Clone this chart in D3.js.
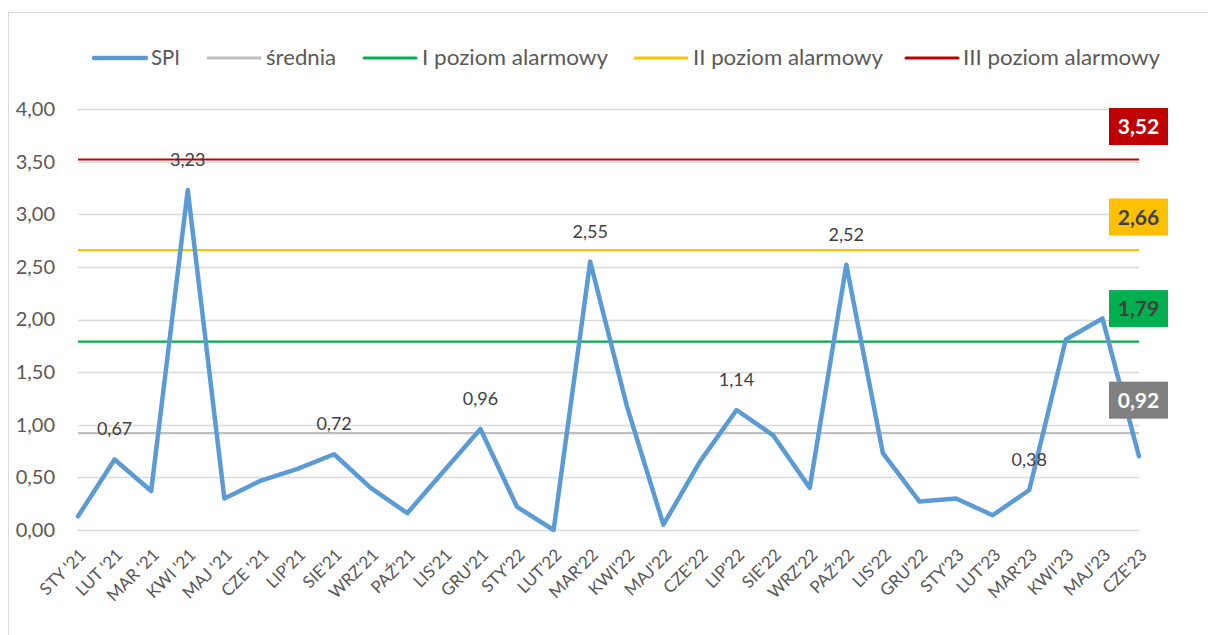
<!DOCTYPE html>
<html>
<head>
<meta charset="utf-8">
<script src="https://cdn.jsdelivr.net/npm/d3@7"></script>
<style>
  html, body { margin: 0; padding: 0; background: #fff; }
  svg { display: block; font-family: Lato, "Open Sans", sans-serif; }
</style>
</head>
<body>
<svg id="chart" width="1208" height="635"></svg>
<script>
const categories = ["STY '21","LUT '21","MAR '21","KWI '21","MAJ '21","CZE '21","LIP'21","SIE'21","WRZ'21","PAŹ'21","LIS'21","GRU'21","STY'22","LUT'22","MAR'22","KWI'22","MAJ'22","CZE'22","LIP'22","SIE'22","WRZ'22","PAŹ'22","LIS'22","GRU'22","STY'23","LUT'23","MAR'23","KWI'23","MAJ'23","CZE'23"];
const spi = [0.13,0.67,0.37,3.23,0.30,0.47,0.58,0.72,0.40,0.16,0.56,0.96,0.22,0.00,2.55,1.18,0.05,0.65,1.14,0.90,0.40,2.52,0.73,0.27,0.30,0.14,0.38,1.81,2.01,0.70];
const labelledIdx = [1,3,7,11,14,18,21,26];
const yTicks = [0,0.5,1,1.5,2,2.5,3,3.5,4];
const refNames = ["średnia","I poziom alarmowy","II poziom alarmowy","III poziom alarmowy"];
const refValues = [0.92,1.79,2.66,3.52];
const refColors = ["#BFBFBF","#00B050","#FFC000","#C00000"];
const refBoxColors = ["#808080","#00B050","#FFC000","#C00000"];
const refBoxText = ["#FFFFFF","#404040","#404040","#FFFFFF"];
const spiColor = "#5B9BD5";

const fmt = v => d3.format(".2f")(v).replace(".", ",");
const svg = d3.select("#chart");

// border
svg.append("rect").attr("x",8.5).attr("y",12.5).attr("width",1400).attr("height",800)
  .attr("fill","none").attr("stroke","#D9D9D9").attr("stroke-width",1);

const x = d3.scalePoint().domain(categories).range([78,1139]);
const y = d3.scaleLinear().domain([0,4]).range([530,109]);

// gridlines
svg.append("g").selectAll("line").data(yTicks).join("line")
  .attr("x1",78).attr("x2",1139)
  .attr("y1",d=>Math.round(y(d))+0.5).attr("y2",d=>Math.round(y(d))+0.5)
  .attr("stroke","#D9D9D9").attr("stroke-width",1.3);

// y axis labels
const yAxis = d3.axisLeft(y).tickValues(yTicks).tickFormat(fmt).tickSize(0).tickPadding(0);
const gy = svg.append("g").attr("transform","translate(55,0)").call(yAxis);
gy.select(".domain").remove();
gy.selectAll("text").attr("fill","#595959").style("font-size","20px").style("font-family","Lato, sans-serif");

// x axis labels
const xAxis = d3.axisBottom(x).tickSize(0).tickPadding(0);
const gx = svg.append("g").call(xAxis);
gx.select(".domain").remove();
gx.selectAll(".tick").attr("transform", d => `translate(${x(d)+9},556)`);
gx.selectAll("text").attr("fill","#595959").style("font-size","17px").style("font-family","Lato, sans-serif")
  .attr("y",0).attr("dy",0).attr("text-anchor","end").attr("transform","rotate(-45)");

// reference lines
refValues.forEach((v,i) => {
  svg.append("line").attr("x1",78).attr("x2",1139).attr("y1",y(v)).attr("y2",y(v))
    .attr("stroke",refColors[i]).attr("stroke-width",2.2);
});

// SPI line
const line = d3.line().x((d,i)=>x(categories[i])).y(d=>y(d));
svg.append("path").datum(spi).attr("d",line).attr("fill","none")
  .attr("stroke",spiColor).attr("stroke-width",4.5).attr("stroke-linejoin","round").attr("stroke-linecap","round");

// data labels
svg.append("g").selectAll("text").data(labelledIdx).join("text")
  .attr("x",i=>x(categories[i])).attr("y",i=>y(spi[i])-24)
  .attr("text-anchor","middle").attr("fill","#404040").style("font-size","18px")
  .text(i=>fmt(spi[i]));

// value boxes on the right
refValues.forEach((v,i) => {
  const cy = y(v) - 33;
  svg.append("rect").attr("x",1109).attr("y",cy-18.5).attr("width",59).attr("height",37)
    .attr("fill",refBoxColors[i]);
  svg.append("text").attr("x",1138.5).attr("y",cy).attr("dy","0.36em")
    .attr("text-anchor","middle").attr("fill",refBoxText[i])
    .style("font-size","21px").style("font-weight","bold").text(fmt(v));
});

// legend
const legendItems = [
  {name:"SPI", color:spiColor, w:4.5, x0:94, tx:151, len:29},
  {name:refNames[0], color:refColors[0], w:3, x0:208, tx:266, len:70},
  {name:refNames[1], color:refColors[1], w:3, x0:364, tx:422, len:186},
  {name:refNames[2], color:refColors[2], w:3, x0:635, tx:693, len:190},
  {name:refNames[3], color:refColors[3], w:3, x0:906, tx:963, len:197}
];
const lg = svg.append("g");
legendItems.forEach(it => {
  lg.append("line").attr("x1",it.x0).attr("x2",it.x0+52).attr("y1",58).attr("y2",58)
    .attr("stroke",it.color).attr("stroke-width",it.w).attr("stroke-linecap","round");
  lg.append("text").attr("x",it.tx).attr("y",58).attr("dy","0.35em")
    .attr("fill","#595959").style("font-size","21px")
    .attr("textLength",it.len).attr("lengthAdjust","spacingAndGlyphs").text(it.name);
});
</script>
</body>
</html>
